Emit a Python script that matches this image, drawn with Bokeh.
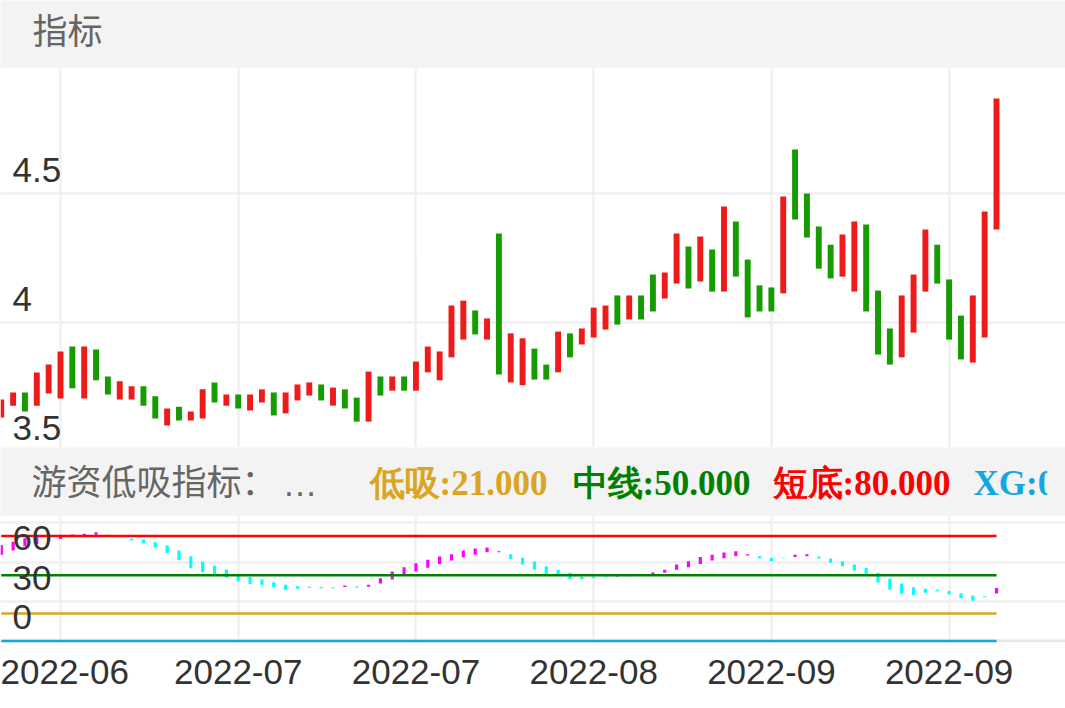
from bokeh.plotting import figure
from bokeh.models import Range1d, FixedTicker, BoxAnnotation, Span
from bokeh.layouts import column
from bokeh.core.properties import value
from bokeh.embed import file_html
from bokeh.resources import INLINE

# ---------------- data ----------------
opens = [3.633, 3.679, 3.730, 3.679, 3.726, 3.707, 3.908, 3.707, 3.897, 3.792,
         3.703, 3.703, 3.754, 3.715, 3.602, 3.675, 3.621, 3.629, 3.769, 3.679,
         3.722, 3.660, 3.691, 3.730, 3.649, 3.699, 3.718, 3.761, 3.679, 3.742,
         3.710, 3.617, 3.792, 3.737, 3.792, 3.737, 3.808, 3.777, 3.866, 3.935,
         4.048, 3.935, 4.346, 3.769, 3.758, 3.900, 3.838, 3.808, 3.959, 3.916,
         3.943, 3.974, 4.106, 4.013, 4.106, 4.187, 4.094, 4.152, 4.296, 4.160,
         4.284, 4.121, 4.393, 4.245, 4.145, 4.137, 4.114, 4.672, 4.501, 4.373,
         4.303, 4.179, 4.121, 4.381, 4.125, 3.978, 3.866, 3.962, 4.121, 4.303,
         4.168, 4.028, 3.846, 3.943, 4.362]
closes = [3.703, 3.730, 3.656, 3.807, 3.838, 3.889, 3.746, 3.908, 3.777, 3.722,
          3.773, 3.754, 3.679, 3.629, 3.668, 3.621, 3.656, 3.742, 3.691, 3.722,
          3.668, 3.722, 3.742, 3.641, 3.730, 3.761, 3.769, 3.699, 3.749, 3.668,
          3.617, 3.811, 3.718, 3.792, 3.737, 3.850, 3.908, 3.889, 4.067, 4.086,
          3.955, 4.017, 3.800, 3.959, 3.940, 3.780, 3.780, 3.966, 3.866, 3.978,
          4.059, 4.067, 3.993, 4.106, 4.013, 4.044, 4.195, 4.346, 4.133, 4.335,
          4.121, 4.451, 4.179, 4.021, 4.044, 4.044, 4.490, 4.400, 4.331, 4.210,
          4.172, 4.342, 4.393, 4.044, 3.877, 3.838, 4.106, 4.187, 4.362, 4.152,
          3.935, 3.858, 4.106, 4.431, 4.869]

ind_low = [65.6, 68.9, 72.2, 74.0, 76.5, 77.8, 79.6, 80.3, 80.9, 80.4,
           80.0, 76.5, 74.4, 71.2, 66.8, 61.8, 55.7, 52.3, 50.6, 48.1,
           45.5, 43.5, 42.9, 40.9, 39.1, 39.7, 40.4, 40.1, 40.1, 41.2,
           40.7, 41.4, 43.7, 46.8, 49.8, 52.9, 55.9, 58.7, 61.3, 63.8,
           65.8, 67.6, 67.6, 62.5, 58.2, 54.4, 50.6, 50.0, 47.3, 47.0,
           47.8, 49.0, 49.0, 49.4, 49.8, 50.3, 51.9, 54.2, 56.1, 58.7,
           61.3, 63.0, 64.8, 65.1, 63.0, 60.7, 63.0, 64.1, 64.5, 62.8,
           59.7, 56.9, 53.6, 50.3, 44.5, 39.1, 35.9, 35.1, 36.8, 37.8,
           35.5, 32.5, 30.7, 33.3, 36.1]
ind_high = [73.2, 75.7, 78.3, 79.0, 79.8, 80.9, 81.1, 81.8, 82.8, 81.0,
            80.8, 78.2, 77.3, 75.2, 72.7, 68.9, 64.5, 60.5, 57.4, 54.4,
            51.3, 48.8, 46.8, 44.7, 42.9, 41.6, 41.4, 41.2, 40.9, 42.2,
            41.6, 42.9, 47.8, 52.9, 56.1, 59.2, 62.0, 64.3, 66.1, 68.9,
            70.4, 71.2, 68.3, 66.1, 63.5, 60.5, 56.9, 54.2, 51.9, 49.0,
            49.0, 49.6, 49.4, 50.0, 50.5, 52.1, 54.2, 58.2, 60.7, 64.1,
            65.8, 67.4, 68.3, 66.1, 64.5, 63.3, 63.5, 65.8, 66.1, 64.3,
            62.8, 60.7, 58.2, 55.7, 51.9, 47.5, 43.7, 40.9, 39.7, 39.1,
            38.1, 36.3, 34.6, 34.0, 40.4]
ind_up = [1, 1, 1, 1, 1, 1, 1, 1, 1, 0,
          0, 0, 0, 0, 0, 0, 0, 0, 0, 0,
          0, 0, 0, 0, 0, 0, 0, 0, 0, 1,
          0, 1, 1, 1, 1, 1, 1, 1, 1, 1,
          1, 1, 1, 0, 0, 0, 0, 0, 0, 0,
          0, 0, 1, 1, 1, 1, 1, 1, 1, 1,
          1, 1, 1, 1, 0, 0, 0, 1, 1, 0,
          0, 0, 0, 0, 0, 0, 0, 0, 0, 0,
          0, 0, 0, 0, 1]

level_names = ["低吸", "中线", "短底", "XG"]
level_values = [21, 50, 80, 0]
level_colors = ["#DAA520", "#008000", "#FF0000", "#15a6df"]

tick_idx = [5, 20, 35, 50, 65, 80]
tick_labels = ["2022-06", "2022-07", "2022-07", "2022-08", "2022-09", "2022-09"]
ytick_up = [3.5, 4.0, 4.5]
ytick_up_labels = ["3.5", "4", "4.5"]
ytick_low = [0, 30, 60, 90]
ytick_low_shown = [0, 30, 60]

# ---------------- style ----------------
BAND = "#f3f3f3"
GRID = "#f0f0f2"
UP = "#ef1b1b"
DOWN = "#169b00"
W = 1065
N = len(opens)
idx = list(range(N))
PX = 11.848          # pixels per candle
X0 = (0 - 0.76) / PX
X1 = (1065 - 0.76) / PX
xr = Range1d(X0, X1)
LABEL_X = (12 - 0.76) / PX


def band_fig(h, y_top, y_bot):
    f = figure(width=W, height=h, x_range=Range1d(0, 1065), y_range=Range1d(y_bot, y_top),
               toolbar_location=None, output_backend="svg", min_border=0,
               x_axis_location=None, y_axis_location=None,
               background_fill_color=BAND, border_fill_color=BAND, outline_line_color=None)
    f.grid.visible = False
    return f


# header 1
pA = band_fig(68, 0, 68)
pA.text(x=[32], y=[28], text=["指标"], text_font=value("Noto Sans CJK SC"),
        text_font_size="35px", text_color="#666666", text_baseline="middle")

# upper candles
pB = figure(width=W, height=379, x_range=xr, y_range=Range1d(3.5167, 4.9857),
            toolbar_location=None, output_backend="svg", min_border=0,
            x_axis_location=None, y_axis_location=None, outline_line_color=None,
            background_fill_color="white", border_fill_color="white")
pB.xgrid.ticker = FixedTicker(ticks=tick_idx)
pB.ygrid.ticker = FixedTicker(ticks=ytick_up)
pB.grid.grid_line_color = GRID
pB.grid.grid_line_width = 2.5
bot = [min(o, c) for o, c in zip(opens, closes)]
top = [max(o, c) for o, c in zip(opens, closes)]
cols = [UP if c >= o else DOWN for o, c in zip(opens, closes)]
pB.vbar(x=idx, bottom=bot, top=top, width=0.5, fill_color=cols, line_color=None)
up_off = 24 / 258.0
pB.text(x=[LABEL_X] * len(ytick_up), y=[v + up_off for v in ytick_up], text=ytick_up_labels,
        text_font=value("Liberation Sans"), text_font_size="35px", text_color="#333333",
        text_baseline="middle")

# header 2
pC = band_fig(69, 447, 516)
pC.text(x=[31], y=[478.5], text=["游资低吸指标："], text_font=value("Noto Sans CJK SC"),
        text_font_size="35px", text_color="#666666", text_baseline="middle")
pC.text(x=[282], y=[483], text=["…"], text_font=value("Liberation Sans"),
        text_font_size="35px", text_color="#666666", text_baseline="middle")
hx = [369, 572, 772, 973]
pC.text(x=hx, y=[483] * 4, text=[f"{n}:{v:.3f}" for n, v in zip(level_names, level_values)],
        text_font=value("Liberation Serif"), text_font_style="bold", text_font_size="35px",
        text_color=level_colors, text_baseline="middle")
pC.add_layout(BoxAnnotation(left=1046.7, fill_color=BAND, fill_alpha=1.0, line_color=None))

# lower indicator
pD = figure(width=W, height=192, x_range=xr, y_range=Range1d(-1.98, 94.9),
            toolbar_location=None, output_backend="svg", min_border=0,
            min_border_bottom=65, y_axis_location=None, outline_line_color=None,
            background_fill_color="white", border_fill_color="white")
pD.xaxis.ticker = FixedTicker(ticks=tick_idx)
pD.xaxis.major_label_overrides = {t: l for t, l in zip(tick_idx, tick_labels)}
pD.xaxis.major_label_text_font = "Liberation Sans"
pD.xaxis.major_label_text_font_size = "35px"
pD.xaxis.major_label_text_color = "#333333"
pD.xaxis.axis_line_color = None
pD.xaxis.major_tick_line_color = None
pD.xaxis.minor_tick_line_color = None
pD.xaxis.major_tick_out = 0
pD.xaxis.major_tick_in = 0
pD.xaxis.major_label_standoff = 16
pD.xgrid.ticker = FixedTicker(ticks=tick_idx)
pD.ygrid.ticker = FixedTicker(ticks=ytick_low)
pD.grid.grid_line_color = GRID
pD.grid.grid_line_width = 2.5
pD.add_layout(Span(location=0, dimension="width", line_color="#e8e8ea", line_width=2.5,
                   level="underlay"))
icol = ["#ff00ff" if u else "#00ffff" for u in ind_up]
pD.vbar(x=idx, bottom=ind_low, top=ind_high, width=0.27, fill_color=icol, line_color=None)
for lv, lc in zip(level_values, level_colors):
    pD.line(x=idx, y=[lv] * N, line_color=lc, line_width=2.5)
low_off = 24 / 1.311
pD.text(x=[LABEL_X] * len(ytick_low_shown), y=[v + low_off for v in ytick_low_shown],
        text=[str(v) for v in ytick_low_shown], text_font=value("Liberation Sans"),
        text_font_size="35px", text_color="#333333", text_baseline="middle")

layout = column(pA, pB, pC, pD, spacing=0)
open("out.html", "w").write(file_html(layout, INLINE))
